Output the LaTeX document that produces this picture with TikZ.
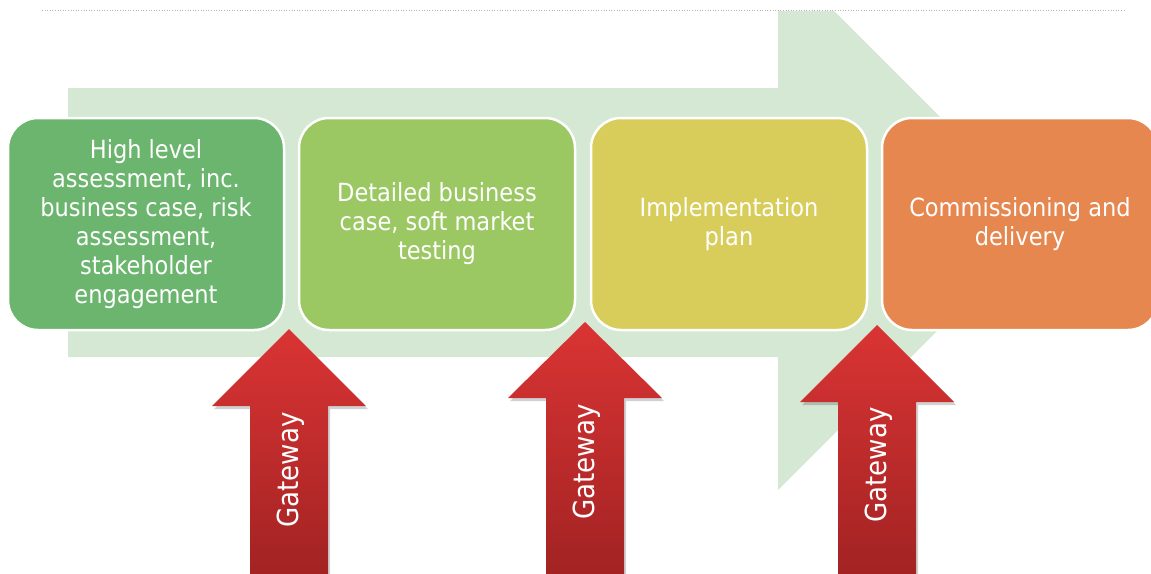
\documentclass[tikz,border=0pt]{standalone}
\usepackage{fontspec}
\setmainfont{DejaVu Sans Condensed}
\definecolor{flowband}{RGB}{213,232,212}
\definecolor{stageA}{RGB}{107,181,110}
\definecolor{stageB}{RGB}{155,200,98}
\definecolor{stageC}{RGB}{216,205,91}
\definecolor{stageD}{RGB}{230,135,80}
\definecolor{gateTop}{RGB}{218,52,52}
\definecolor{gateBot}{RGB}{160,34,34}
\begin{document}
\begin{tikzpicture}[x=1pt,y=-1pt,
  stage/.style={draw=white, line width=2.5pt, rounded corners=30pt,
    minimum width=276pt, minimum height=212pt, text=white, align=center,
    font=\fontsize{25}{29}\selectfont},
  gatelabel/.style={text=white, rotate=90, font=\fontsize{29}{32}\selectfont},
  gatebody/.style={top color=gateTop, bottom color=gateBot, draw=none},
  gateshadow/.style={fill=black, opacity=0.18, draw=none}]
\useasboundingbox (0,0) rectangle (1151,573);
\clip (0,0) rectangle (1151,573);

% dotted rule along the top
\draw[gray!60, dotted, line width=0.6pt] (42,10) -- (1125,10);

% broad process arrow behind the stages
\fill[flowband] (68,88) -- (778,88) -- (778,11) -- (834,11) -- (1045.5,222.5)
  -- (778,490) -- (778,357) -- (68,357) -- cycle;

% stages
\node[stage, fill=stageA] (s1) at (146,224)
  {High level\\assessment, inc.\\business case, risk\\assessment,\\stakeholder\\engagement};
\node[stage, fill=stageB] (s2) at (437,224)
  {Detailed business\\case, soft market\\testing};
\node[stage, fill=stageC] (s3) at (729,224)
  {Implementation\\plan};
\node[stage, fill=stageD] (s4) at (1020,224)
  {Commissioning and\\delivery};

% gateway arrows: tip x, tip y, head base y, label centre y
\foreach \cx/\ty/\yb/\ly [count=\i] in {289/329/406/470, 585/322/398/462, 877/325/402/465}{
  \fill[gateshadow] ({\cx+2},{\ty+3}) -- ({\cx+79},{\yb+3}) -- ({\cx+41},{\yb+3})
    -- ({\cx+41},590) -- ({\cx-37},590) -- ({\cx-37},{\yb+3}) -- ({\cx-75},{\yb+3}) -- cycle;
  \path[gatebody] (\cx,\ty) -- ({\cx+77},\yb) -- ({\cx+39},\yb) -- ({\cx+39},585)
    -- ({\cx-39},585) -- ({\cx-39},\yb) -- ({\cx-77},\yb) -- cycle;
  \node[gatelabel] (g\i) at ({\cx+2},\ly) {Gateway};
}
\end{tikzpicture}
\end{document}
